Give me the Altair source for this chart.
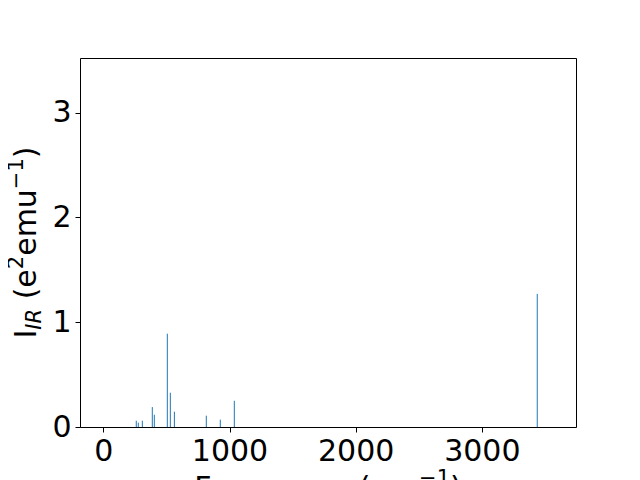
import altair as alt
import pandas as pd

# Data
freqs = [261, 277, 309, 388, 404, 507, 531, 563, 816, 927, 1038, 3439]
intensities = [0.06, 0.041, 0.06, 0.19, 0.117, 0.89, 0.327, 0.146, 0.108, 0.07, 0.25, 1.27]
x_ticks = [0, 1000, 2000, 3000]
y_ticks = [0, 1, 2, 3]

df = pd.DataFrame({"freq": freqs, "inten": intensities})

W, H = 496, 369
FONT = "DejaVu Sans"
BIG, SMALL = 30, 21

# approximate DejaVu Sans advance widths (em)
ADV = {" ": 0.318, "(": 0.390, ")": 0.390, "e": 0.615, "m": 0.974, "u": 0.634,
       "2": 0.636, "1": 0.636, "\u2212": 0.838, "I": 0.295, "R": 0.695,
       "F": 0.575, "r": 0.411, "q": 0.635, "n": 0.634, "c": 0.550, "y": 0.592}


def width(s, size):
    return sum(ADV[ch] for ch in s) * size


# pieces: (text, size, raise, italic)
ylab = [("I", BIG, 0, False), ("IR", SMALL, -5, True), (" (e", BIG, 0, False),
        ("2", SMALL, 13, False), ("emu", BIG, 0, False), ("\u22121", SMALL, 13, False),
        (")", BIG, 0, False)]
xlab = [("Frequency (cm", BIG, 0, False), ("\u22121", SMALL, 13, False), (")", BIG, 0, False)]

xscale = alt.Scale(domain=[-185, 3746], nice=False, zero=False)
yscale = alt.Scale(domain=[0, 3.52], nice=False, zero=False)

axis_common = dict(title=None, grid=False, labelFontSize=BIG, labelFont=FONT,
                   labelColor="black", tickColor="black", domainColor="black",
                   tickSize=5, tickWidth=1, domainWidth=1, labelPadding=4,
                   labelFlush=False, format="d")

bars = alt.Chart(df).mark_rule(color="#1f77b4", strokeWidth=1).encode(
    x=alt.X("freq:Q", scale=xscale, axis=alt.Axis(values=x_ticks, **axis_common)),
    y=alt.Y("inten:Q", scale=yscale, axis=alt.Axis(values=y_ticks, **axis_common)),
    y2=alt.datum(0),
)

# top and right spines drawn as axes with no ticks or labels
spines = alt.Chart(df).mark_point(opacity=0).encode(
    x=alt.X("freq:Q", scale=xscale,
            axis=alt.Axis(orient="top", title=None, grid=False, ticks=False, labels=False,
                          domainColor="black", domainWidth=1)),
    y=alt.Y("inten:Q", scale=yscale,
            axis=alt.Axis(orient="right", title=None, grid=False, ticks=False, labels=False,
                          domainColor="black", domainWidth=1)),
)

layers = [bars, spines]

# y label (rotated, reading bottom to top)
total = sum(width(t, s) for t, s, _, _ in ylab)
ypos = H / 2 + total / 2
base_x = 36 - 80
for t, s, sh, it in ylab:
    lead = len(t) - len(t.lstrip(" "))
    txt = t.lstrip(" ")
    layers.append(alt.Chart(df.head(1)).mark_text(
        text=txt, font=FONT, fontSize=s, angle=270, align="left", baseline="alphabetic",
        fontStyle="italic" if it else "normal", color="black").encode(
        x=alt.value(base_x - sh), y=alt.value(ypos - width(" " * lead, s))))
    ypos -= width(t, s)

# x label
total = sum(width(t, s) for t, s, _, _ in xlab)
xpos = W / 2 - total / 2
base_y = 498 - 58
for t, s, sh, it in xlab:
    layers.append(alt.Chart(df.head(1)).mark_text(
        text=t, font=FONT, fontSize=s, align="left", baseline="alphabetic",
        color="black").encode(x=alt.value(xpos), y=alt.value(base_y - sh)))
    xpos += width(t, s)

chart = alt.layer(*layers).resolve_axis(x="independent", y="independent").properties(
    width=W, height=H,
    autosize=alt.AutoSizeParams(type="none"),
    padding={"left": 72, "top": 50, "right": 20, "bottom": 472 - 50 - H},
).configure_view(strokeWidth=0).configure(background="white")

chart.save("out.html", embed_options={"renderer": "svg", "actions": False})
